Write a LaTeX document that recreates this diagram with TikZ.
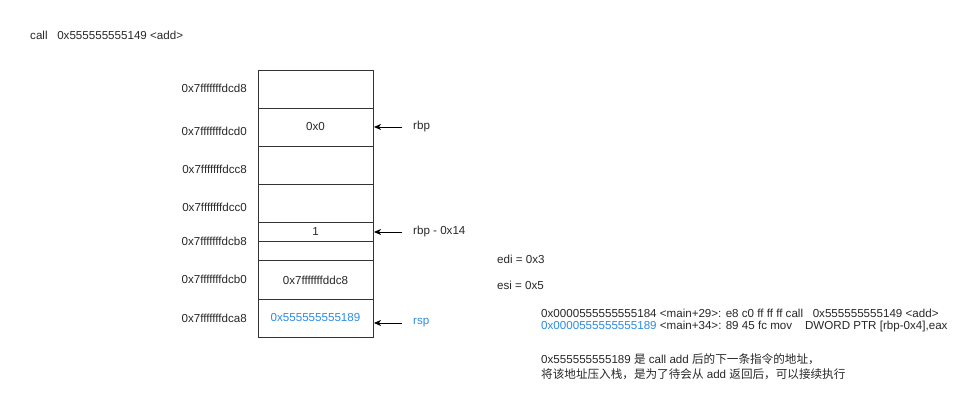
\documentclass[tikz,border=0pt]{standalone}
\usepackage{fontspec}
\setmainfont{Liberation Sans}
\newfontfamily\cjk{Noto Sans CJK SC}
\usetikzlibrary{arrows.meta}
\definecolor{lnblue}{RGB}{45,140,225}
\definecolor{txtgray}{RGB}{40,40,40}
\begin{document}
\begin{tikzpicture}[x=1pt,y=-1pt,
  lbl/.style={font=\fontsize{11.6}{14}\selectfont, text=txtgray, inner sep=0pt},
  cell/.style={draw=black!80, line width=0.8pt},
  ptr/.style={-{Stealth[length=7pt,width=6pt,inset=2pt]}, line width=0.9pt}]
\useasboundingbox[fill=white] (0,0) rectangle (969,403);
\node[lbl, anchor=west] (call) at (30,35) {call\ \ \ 0x555555555149 <add>};
% stack cells
\foreach \n/\a/\b in {c1/70/108, c2/108/146, c3/146/184, c4/184/222, c5/222/241.5, c6/241.5/260.5, c7/260.5/299, c8/299/337}{
  \draw[cell] (258,\a) rectangle (373,\b);
}
\node[lbl] (v0) at (315.5,127) {0x0};
\node[lbl] (v1) at (315.5,232) {1};
\node[lbl] (v2) at (315.5,280) {0x7fffffffddc8};
\node[lbl, text=lnblue] (v3) at (315.5,318) {0x555555555189};
% addresses
\foreach \n/\y/\t in {a1/88/0x7fffffffdcd8, a2/131/0x7fffffffdcd0, a3/169/0x7fffffffdcc8, a4/207/0x7fffffffdcc0, a5/241/0x7fffffffdcb8, a6/279/0x7fffffffdcb0, a7/318/0x7fffffffdca8}{
  \node[lbl, anchor=east] (\n) at (247,\y) {\t};
}
% pointers
\coordinate (t1) at (374,127);
\coordinate (t2) at (374,232);
\coordinate (t3) at (374,323);
\node[lbl, anchor=west] (rbp) at (413,127) {rbp};
\node[lbl, anchor=west] (rbp14) at (413,232) {rbp - 0x14};
\node[lbl, anchor=west, text=lnblue] (rsp) at (413,323) {rsp};
\draw[ptr] (402,127) -- (t1);
\draw[ptr] (402,232) -- (t2);
\draw[ptr] (402,323) -- (t3);
% registers
\node[lbl, anchor=west] (edi) at (497,259) {edi = 0x3};
\node[lbl, anchor=west] (esi) at (497,285) {esi = 0x5};
\node[lbl, anchor=west] (l1) at (541,313) {0x0000555555555184 <main+29>: e8 c0 ff ff ff call\ \ \ 0x555555555149 <add>};
\node[lbl, anchor=west] (l2) at (541,327) {\textcolor{lnblue}{0x0000555555555189} <main+34>: 89 45 fc mov\ \ \ \ DWORD PTR [rbp-0x4],eax};
\node[lbl, anchor=west] (n1) at (541,359) {0x555555555189 {\cjk 是} call add {\cjk 后的下一条指令的地址，}};
\node[lbl, anchor=west] (n2) at (541,374) {{\cjk 将该地址压入栈，是为了待会从} add {\cjk 返回后，可以接续执行}};
\end{tikzpicture}
\end{document}
